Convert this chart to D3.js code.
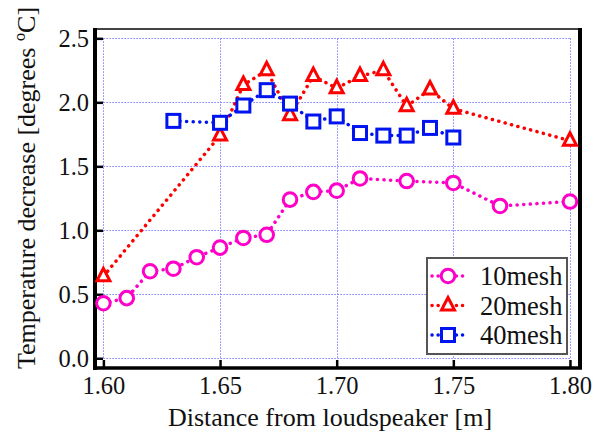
<!DOCTYPE html>
<html>
<head>
<meta charset="utf-8">
<script src="https://cdn.jsdelivr.net/npm/d3@7"></script>
<style>
  body { margin: 0; background: #fff; }
  text { font-family: "Liberation Serif", "Times New Roman", serif; }
</style>
</head>
<body>
<div id="chart"></div>
<script>
// data
var dist10 = [1.60, 1.61, 1.62, 1.63, 1.64, 1.65, 1.66, 1.67, 1.68, 1.69, 1.70, 1.71, 1.73, 1.75, 1.77, 1.80];
var mesh10 = [0.43, 0.47, 0.68, 0.70, 0.79, 0.865, 0.94, 0.965, 1.24, 1.30, 1.31, 1.405, 1.385, 1.37, 1.19, 1.225];
var dist20 = [1.60, 1.65, 1.66, 1.67, 1.68, 1.69, 1.70, 1.71, 1.72, 1.73, 1.74, 1.75, 1.80];
var mesh20 = [0.64, 1.74, 2.135, 2.25, 1.90, 2.205, 2.11, 2.205, 2.25, 1.97, 2.10, 1.95, 1.70];
var dist40 = [1.63, 1.65, 1.66, 1.67, 1.68, 1.69, 1.70, 1.71, 1.72, 1.73, 1.74, 1.75];
var mesh40 = [1.855, 1.84, 1.975, 2.095, 1.99, 1.85, 1.89, 1.76, 1.74, 1.74, 1.80, 1.725];
var xTicks = [1.60, 1.65, 1.70, 1.75, 1.80];
var yTicks = [0.0, 0.5, 1.0, 1.5, 2.0, 2.5];
var seriesNames = ["10mesh", "20mesh", "40mesh"];

var W = 593, H = 436;
// plot box (note: "top" is reserved on window, so use a margin object)
var box = { l: 95, r: 580, t: 29, b: 368 };

var svg = d3.select("#chart").append("svg")
  .attr("width", W).attr("height", H);

// scales
var x = d3.scaleLinear().domain([1.5964, 1.8043]).range([box.l, box.r]);
var y = d3.scaleLinear().domain([-0.076, 2.573]).range([box.b, box.t]);

// grid
var grid = svg.append("g").attr("stroke", "#7f7fff").attr("stroke-width", 1)
  .attr("stroke-dasharray", "1.5,1.5");
grid.selectAll(".gx").data(xTicks).enter().append("line")
  .attr("x1", function(d) { return Math.round(x(d)) + 0.5; })
  .attr("x2", function(d) { return Math.round(x(d)) + 0.5; })
  .attr("y1", y(2.5)).attr("y2", y(0));
grid.selectAll(".gy").data(yTicks).enter().append("line")
  .attr("y1", function(d) { return Math.round(y(d)) + 0.5; })
  .attr("y2", function(d) { return Math.round(y(d)) + 0.5; })
  .attr("x1", x(1.60)).attr("x2", x(1.80));

// axes
var xAxis = svg.append("g")
  .attr("transform", "translate(0," + box.b + ")")
  .call(d3.axisBottom(x).tickValues(xTicks).tickSize(-8).tickPadding(9)
    .tickFormat(d3.format(".2f")));
var yAxis = svg.append("g")
  .attr("transform", "translate(" + box.l + ",0)")
  .call(d3.axisLeft(y).tickValues(yTicks).tickSize(-8).tickPadding(6)
    .tickFormat(d3.format(".1f")));
[xAxis, yAxis].forEach(function(a) {
  a.select(".domain").remove();
  a.selectAll(".tick line").attr("stroke", "#000").attr("stroke-width", 2.5);
  a.selectAll(".tick text").attr("fill", "#111").style("font-size", "24.5px")
    .style("font-family", "'Liberation Serif', 'Times New Roman', serif");
});

// frame
svg.append("line").attr("x1", box.l).attr("x2", box.r).attr("y1", box.t).attr("y2", box.t)
  .attr("stroke", "#444").attr("stroke-width", 2);
svg.append("line").attr("x1", box.r).attr("x2", box.r).attr("y1", box.t - 1).attr("y2", box.b + 1)
  .attr("stroke", "#000").attr("stroke-width", 4);
svg.append("line").attr("x1", box.l).attr("x2", box.l).attr("y1", box.t - 1).attr("y2", box.b + 2)
  .attr("stroke", "#000").attr("stroke-width", 4);
svg.append("line").attr("x1", box.l - 2).attr("x2", box.r + 2).attr("y1", box.b).attr("y2", box.b)
  .attr("stroke", "#000").attr("stroke-width", 3.5);

// series
var series = [
  { name: seriesNames[0], xs: dist10, ys: mesh10, color: "#ff00c8", shape: "circle" },
  { name: seriesNames[1], xs: dist20, ys: mesh20, color: "#ff0000", shape: "triangle" },
  { name: seriesNames[2], xs: dist40, ys: mesh40, color: "#0014f0", shape: "square" }
];

function drawMarker(g, shape, color, cx, cy) {
  if (shape === "circle") {
    g.append("circle").attr("cx", cx).attr("cy", cy).attr("r", 6.8)
      .attr("fill", "#fff").attr("stroke", color).attr("stroke-width", 3);
  } else if (shape === "triangle") {
    g.append("path")
      .attr("d", "M" + cx + "," + (cy - 8) + "L" + (cx + 6.5) + "," + (cy + 4.5) + "L" + (cx - 6.5) + "," + (cy + 4.5) + "Z")
      .attr("fill", "#fff").attr("stroke", color).attr("stroke-width", 3).attr("stroke-linejoin", "miter");
  } else {
    g.append("rect").attr("x", cx - 6.5).attr("y", cy - 6.5).attr("width", 13).attr("height", 13)
      .attr("fill", "#fff").attr("stroke", color).attr("stroke-width", 3);
  }
}

var line = d3.line().x(function(d) { return x(d[0]); }).y(function(d) { return y(d[1]); });

series.forEach(function(s) {
  var pts = d3.zip(s.xs, s.ys);
  svg.append("path").datum(pts)
    .attr("d", line).attr("fill", "none")
    .attr("stroke", s.color).attr("stroke-width", 3.5)
    .attr("stroke-linecap", "round").attr("stroke-dasharray", "0.1,6.5");
});
series.forEach(function(s) {
  var g = svg.append("g");
  d3.zip(s.xs, s.ys).forEach(function(p) {
    drawMarker(g, s.shape, s.color, x(p[0]), y(p[1]));
  });
});

// legend
var lg = svg.append("g");
lg.append("rect").attr("x", 427).attr("y", 258).attr("width", 140).attr("height", 96)
  .attr("fill", "#fff").attr("stroke", "#555").attr("stroke-width", 2);
series.forEach(function(s, i) {
  var cy = 276 + i * 29.5;
  lg.append("line").attr("x1", 432).attr("x2", 463).attr("y1", cy).attr("y2", cy)
    .attr("stroke", s.color).attr("stroke-width", 3.5)
    .attr("stroke-linecap", "round").attr("stroke-dasharray", "0.1,6");
  drawMarker(lg, s.shape, s.color, 448, cy);
  lg.append("text").attr("x", 480).attr("y", cy + 9)
    .style("font-size", "26.5px").attr("fill", "#111").text(s.name);
});

// axis titles
svg.append("text").attr("x", 330).attr("y", 426)
  .attr("text-anchor", "middle").style("font-size", "26px").attr("fill", "#111")
  .text("Distance from loudspeaker [m]");
svg.append("text")
  .attr("transform", "translate(35," + 188 + ") rotate(-90)")
  .attr("text-anchor", "middle").style("font-size", "26px").attr("fill", "#111")
  .text("Temperature decrease [degrees \u00BAC]");
</script>
</body>
</html>
